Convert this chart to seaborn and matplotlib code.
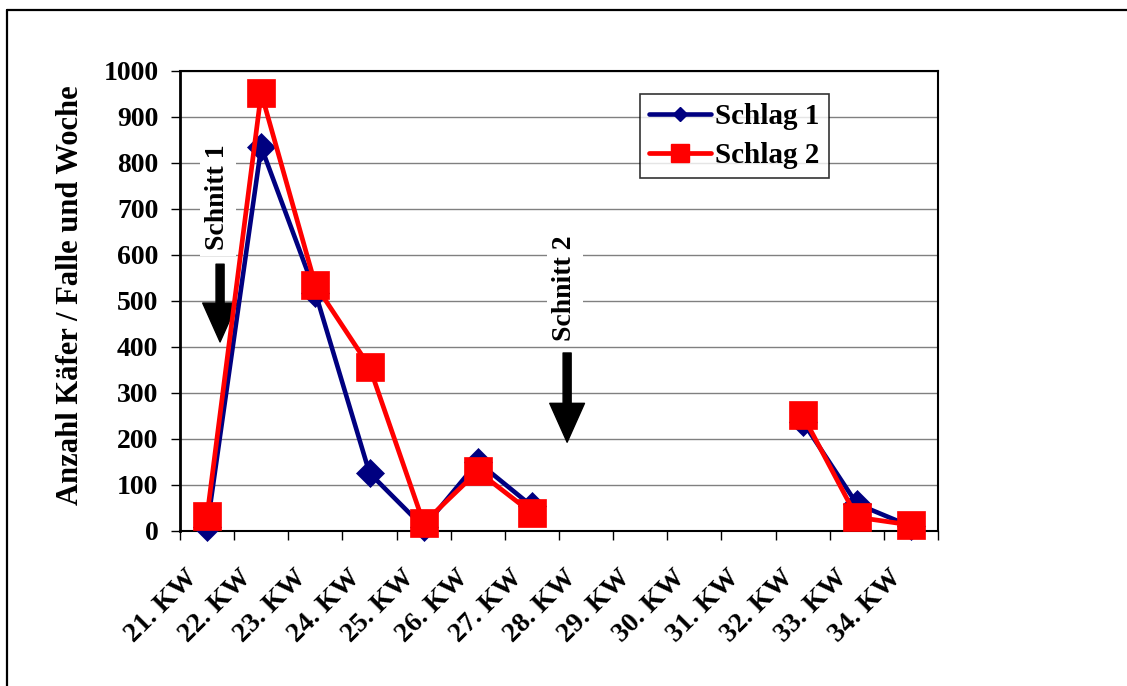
import numpy as np
import pandas as pd
import matplotlib
matplotlib.use("Agg")
import matplotlib.pyplot as plt
from matplotlib.lines import Line2D
from matplotlib.transforms import ScaledTranslation
import seaborn as sns

# Weekly counts of beetles per trap for two fields
weeks = ["21. KW", "22. KW", "23. KW", "24. KW", "25. KW", "26. KW", "27. KW",
         "28. KW", "29. KW", "30. KW", "31. KW", "32. KW", "33. KW", "34. KW"]
schlag1 = [8, 835, 518, 126, 8, 150, 54, np.nan, np.nan, np.nan, np.nan, 238, 59, 10]
schlag2 = [33, 952, 535, 357, 17, 130, 39, np.nan, np.nan, np.nan, np.nan, 252, 30, 13]
series_names = ["Schlag 1", "Schlag 2"]
y_ticks = list(range(0, 1001, 100))
y_label = "Anzahl Käfer / Falle und Woche"
cuts = [("Schnitt 1", 0.2), ("Schnitt 2", 6.61)]


def to_frame(values):
    """Long table with a segment id so gaps (missing weeks) break the line."""
    df = pd.DataFrame({"pos": np.arange(len(weeks)), "count": values})
    df["seg"] = df["count"].isna().cumsum()
    return df.dropna()


sns.set_style("white")
plt.rcParams["font.family"] = ["Liberation Serif", "DejaVu Serif"]
plt.rcParams["font.weight"] = "bold"
for key in ["text.color", "axes.labelcolor", "xtick.color", "ytick.color"]:
    plt.rcParams[key] = "black"

fig = plt.figure(figsize=(11.27, 6.86), dpi=100)
ax = fig.add_axes([180 / 1127, 155 / 686, 758 / 1127, 460 / 686])

# horizontal gridlines
for y in y_ticks:
    ax.axhline(y, color="#808080", lw=1.0, zorder=0)

styles = [
    dict(color="#000080", marker="D", markersize=14.5, lw=3.3),
    dict(color="#FF0000", marker="s", markersize=20.5, lw=3.4),
]
for vals, st in zip([schlag1, schlag2], styles):
    df = to_frame(vals)
    sns.lineplot(data=df, x="pos", y="count", units="seg", estimator=None,
                 color=st["color"], marker=st["marker"], markersize=st["markersize"],
                 markeredgecolor=st["color"], markeredgewidth=0.5,
                 linewidth=st["lw"], ax=ax, legend=False, zorder=3, clip_on=False)

ax.set_xlim(-0.5, len(weeks) - 0.5)
ax.set_ylim(0, 1000)

# y axis
ax.set_yticks(y_ticks)
ax.set_yticklabels([str(v) for v in y_ticks], fontsize=20, fontweight="bold")
ax.tick_params(axis="y", direction="out", length=6.5, width=1.0, pad=9, left=True)

# x axis: ticks between categories, rotated labels centred on categories
ax.set_xticks(np.arange(-0.5, len(weeks), 1.0))
ax.set_xticklabels([])
ax.tick_params(axis="x", direction="out", length=6.5, width=1.0, bottom=True)
ax.set_xticks(np.arange(len(weeks)), minor=True)
ax.set_xticklabels(weeks, minor=True, rotation=45, ha="right", va="center",
                   rotation_mode="anchor", fontsize=20, fontweight="bold")
ax.tick_params(axis="x", which="minor", length=0, pad=31)
shift = ScaledTranslation(-13 / 100, 0, fig.dpi_scale_trans)
for lab in ax.get_xticklabels(minor=True):
    lab.set_transform(lab.get_transform() + shift)
ax.set_xlabel("")
ax.set_ylabel("")

for s in ["top", "right", "bottom"]:
    ax.spines[s].set_color("black")
    ax.spines[s].set_linewidth(1.5)
ax.spines["left"].set_color("black")
ax.spines["left"].set_linewidth(2.0)

ax.text(-0.1438, 0.513, y_label, transform=ax.transAxes, rotation=90,
        ha="center", va="center", fontsize=22, fontweight="bold")

# cut markers: vertical label above a block arrow
arrow_kw = dict(facecolor="black", edgecolor="black", width=5.8,
                headwidth=25, headlength=28, shrink=0)
text_y = {"Schnitt 1": 725, "Schnitt 2": 528}
arrow_ends = {"Schnitt 1": (580, 411), "Schnitt 2": (387, 193)}
for name, xpos in cuts:
    ax.text(xpos, text_y[name], name, rotation=90, ha="center", va="center",
            fontsize=20, fontweight="bold", zorder=2,
            bbox=dict(facecolor="white", edgecolor="none", pad=4))
    tail, tip = arrow_ends[name]
    ax_x = xpos + 0.04
    ax.annotate("", xy=(ax_x, tip), xytext=(ax_x, tail), arrowprops=arrow_kw,
                zorder=2)

handles = [
    Line2D([], [], color="#000080", marker="D", markersize=7.5, lw=3.3,
           markeredgecolor="#000080"),
    Line2D([], [], color="#FF0000", marker="s", markersize=13.5, lw=3.4,
           markeredgecolor="#FF0000"),
]
leg = ax.legend(handles, series_names, loc="upper left",
                bbox_to_anchor=((640 - 180) / 758, (531 - 94) / 460),
                borderaxespad=0, frameon=True, fancybox=False, shadow=False,
                prop=dict(family="Liberation Serif", weight="bold", size=21),
                handlelength=2.1, handletextpad=0.15, labelspacing=0.4,
                borderpad=0.32)
leg.get_frame().set_edgecolor("black")
leg.get_frame().set_linewidth(1.2)
leg.set_zorder(5)

# outer frame (top and left edges)
fig.add_artist(Line2D([7 / 1127, 7 / 1127], [0, 1 - 10 / 686],
                      transform=fig.transFigure, color="black", lw=1.6))
fig.add_artist(Line2D([7 / 1127, 1], [1 - 10 / 686, 1 - 10 / 686],
                      transform=fig.transFigure, color="black", lw=1.6))

fig.savefig("out.png", dpi=100)
